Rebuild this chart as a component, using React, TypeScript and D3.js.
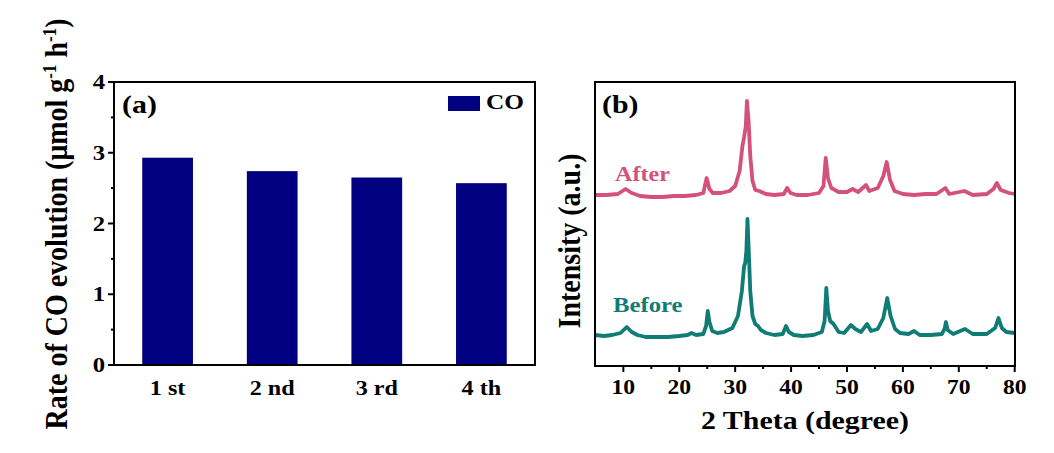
import React from "react";
import * as d3 from "d3";

// ---------- Data ----------
const cycles = ["1 st", "2 nd", "3 rd", "4 th"];
const coRates = [2.93, 2.74, 2.65, 2.57];
const rateTicks = [0, 1, 2, 3, 4];
const thetaTicks = [10, 20, 30, 40, 50, 60, 70, 80];

// XRD patterns: [2θ (degree), intensity (a.u.)]
const beforePattern: [number, number][] = [
  [5.0, 31], [6.5, 30], [8.0, 31], [9.5, 33], [10.6, 39], [11.5, 34], [12.5, 31],
  [14, 29], [16, 29], [18, 29], [20, 30], [21.5, 31], [22.2, 33], [23, 31],
  [24.3, 32], [24.8, 40], [25.1, 55], [25.4, 44], [25.9, 35], [26.8, 33],
  [28, 34], [29.5, 38], [30.5, 50], [31.2, 75], [31.6, 100], [31.8, 103],
  [32.0, 115], [32.2, 147], [32.4, 120], [32.7, 75], [33.1, 50], [33.6, 42],
  [34.1, 40], [34.6, 36], [35.5, 33], [37, 31], [38.5, 32], [39.1, 40],
  [39.6, 34], [40.5, 31], [42, 30], [44, 31], [45.5, 34], [46.0, 45],
  [46.3, 78], [46.6, 55], [47.0, 45], [47.6, 42], [48.5, 34], [49.5, 33],
  [50.7, 41], [51.5, 37], [52.5, 34], [53.6, 42], [54.3, 35], [55.5, 37],
  [56.5, 48], [57.2, 68], [57.8, 50], [58.6, 37], [59.5, 33], [61, 32],
  [62, 35], [63, 31], [65, 31], [67, 32], [67.5, 38], [67.7, 44], [68.0, 36],
  [69, 32], [71.1, 37], [72.5, 32], [75, 32], [76.5, 38], [77.1, 48],
  [77.7, 38], [78.5, 34], [80, 33],
];

const afterPattern: [number, number][] = [
  [5, 31], [7, 31], [9, 32], [10.4, 37], [11.5, 33], [13, 30], [15, 29],
  [17, 29], [19, 30], [21, 30], [23, 31], [24.3, 33], [24.9, 48], [25.4, 37],
  [26, 33], [27.5, 33], [29, 35], [30, 40], [30.8, 55], [31.3, 80],
  [31.6, 89], [31.9, 100], [32.1, 125], [32.4, 105], [32.7, 70], [33.1, 45],
  [33.6, 36], [34.3, 35], [35.5, 32], [37, 31], [38.7, 32], [39.3, 38],
  [39.9, 33], [41, 31], [43, 31], [45, 33], [45.8, 40], [46.2, 68],
  [46.6, 48], [47.2, 38], [48.5, 34], [50, 34], [51, 37], [52, 34],
  [53.4, 41], [54, 35], [55.5, 38], [56.5, 50], [57.1, 64], [57.7, 46],
  [58.5, 35], [60, 32], [62, 31], [64, 32], [66, 32], [67.6, 38], [68.3, 32],
  [71, 35], [72.5, 31], [75, 32], [76.2, 37], [76.8, 43], [77.5, 36],
  [79, 33], [80, 32],
];
const afterOffset = 140;

// ---------- Styles ----------
const FONT = "'Liberation Serif', 'Times New Roman', serif";
const SX = 1.15; // horizontal stretch of the original figure text
const barColor = "#000080";
const afterColor = "#D4517B";
const beforeColor = "#0F7D75";

type TProps = {
  x: number; y: number; size: number; anchor?: "start" | "middle" | "end";
  fill?: string; rotate?: boolean; children: React.ReactNode;
};
const T = ({ x, y, size, anchor = "start", fill = "#000", rotate = false, children }: TProps) => (
  <text
    transform={rotate ? `translate(${x},${y}) rotate(-90) scale(1,${SX})` : `translate(${x},${y}) scale(${SX},1)`}
    fontFamily={FONT}
    fontWeight="bold"
    fontSize={size}
    textAnchor={anchor}
    fill={fill}
  >
    {children}
  </text>
);

export default function App() {
  // Panel (a)
  const a = { l: 114, r: 535, t: 82, b: 365 };
  const xBand = d3.scaleBand<string>().domain(cycles).range([a.l, a.r]).paddingInner(0.515).paddingOuter(0.27);
  const yRate = d3.scaleLinear().domain([0, 4]).range([a.b, a.t]);
  const minorRate = d3.range(0.5, 4, 1);

  // Panel (b)
  const b = { l: 595, r: 1015, t: 82, b: 366 };
  const xTheta = d3.scaleLinear().domain([5, 80]).range([595.4, 1014.7]);
  const yInt = d3.scaleLinear().domain([0, 284]).range([b.b, b.t]);
  const minorTheta = d3.range(15, 80, 10);
  const lineBefore = d3.line<[number, number]>().x((d) => xTheta(d[0])).y((d) => yInt(d[1])).curve(d3.curveLinear);
  const lineAfter = d3.line<[number, number]>().x((d) => xTheta(d[0])).y((d) => yInt(d[1] + afterOffset)).curve(d3.curveLinear);

  return (
    <svg width={1054} height={453} style={{ position: "absolute", left: 0, top: 0, background: "#fff" }}>
      {/* ---------- Panel (a) ---------- */}
      {coRates.map((v, i) => (
        <rect key={i} x={xBand(cycles[i])} y={yRate(v)} width={xBand.bandwidth()} height={yRate(0) - yRate(v)} fill={barColor} />
      ))}
      <rect x={a.l} y={a.t} width={a.r - a.l} height={a.b - a.t} fill="none" stroke="#000" strokeWidth={2} />
      {rateTicks.map((t) => (
        <g key={t}>
          <line x1={a.l - 6} x2={a.l} y1={yRate(t)} y2={yRate(t)} stroke="#000" strokeWidth={2} />
          <T x={105} y={yRate(t) + 7} size={21.5} anchor="end">{t}</T>
        </g>
      ))}
      {minorRate.map((t) => (
        <line key={t} x1={a.l - 3} x2={a.l} y1={yRate(t)} y2={yRate(t)} stroke="#000" strokeWidth={2} />
      ))}
      {cycles.map((c) => (
        <T key={c} x={(xBand(c) as number) + xBand.bandwidth() / 2} y={395} size={21} anchor="middle">{c}</T>
      ))}
      <T x={122} y={113} size={26}>(a)</T>
      <rect x={448} y={96} width={32} height={15} fill={barColor} />
      <T x={486} y={108.5} size={22}>CO</T>
      <T x={67} y={224} size={28} anchor="middle" rotate>
        Rate of CO evolution (μmol g<tspan dy={-10} fontSize={17}>-1</tspan><tspan dy={10}> h</tspan><tspan dy={-10} fontSize={17}>-1</tspan><tspan dy={10}>)</tspan>
      </T>

      {/* ---------- Panel (b) ---------- */}
      <path d={lineAfter(afterPattern) || ""} fill="none" stroke={afterColor} strokeWidth={3.8} strokeLinejoin="round" />
      <path d={lineBefore(beforePattern) || ""} fill="none" stroke={beforeColor} strokeWidth={3.8} strokeLinejoin="round" />
      <rect x={b.l} y={b.t} width={b.r - b.l} height={b.b - b.t} fill="none" stroke="#000" strokeWidth={2} />
      {thetaTicks.map((t) => (
        <g key={t}>
          <line x1={xTheta(t)} x2={xTheta(t)} y1={b.b} y2={b.b + 6} stroke="#000" strokeWidth={2} />
          <T x={xTheta(t)} y={394} size={20.5} anchor="middle">{t}</T>
        </g>
      ))}
      {minorTheta.map((t) => (
        <line key={t} x1={xTheta(t)} x2={xTheta(t)} y1={b.b} y2={b.b + 3} stroke="#000" strokeWidth={2} />
      ))}
      <T x={602} y={113} size={26}>(b)</T>
      <T x={615} y={181} size={21} fill={afterColor}>After</T>
      <T x={613} y={311.5} size={21.5} fill={beforeColor}>Before</T>
      <T x={805} y={429} size={26} anchor="middle">2 Theta (degree)</T>
      <T x={580} y={241} size={28} anchor="middle" rotate>Intensity (a.u.)</T>
    </svg>
  );
}
